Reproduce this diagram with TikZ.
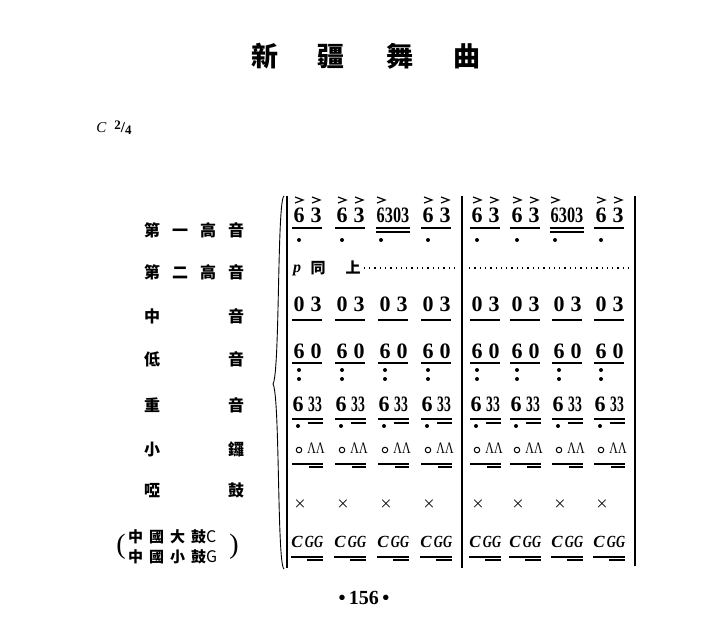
\documentclass[tikz,border=0pt]{standalone}
\usepackage{amsmath}
\usepackage{bm}
\usepackage{fontspec}
\usepackage{graphicx}
\setmainfont{Liberation Serif}
\newfontfamily\cjk{Noto Sans CJK TC}
\usetikzlibrary{positioning}

\newcommand{\numfont}{\fontsize{22}{22}\selectfont\bfseries}
\newcommand{\tight}[1]{\scalebox{0.74}[1]{#1}}
\newcommand{\tighter}[1]{\scalebox{0.62}[1]{#1}}

\begin{document}
\begin{tikzpicture}[x=1pt,y=-1pt]
		\tikzstyle{nt}=[font=\numfont, inner sep=0pt]
		\tikzstyle{lb}=[font=\cjk\bfseries\fontsize{16}{16}\selectfont, inner sep=0pt, anchor=west]
		\tikzstyle{lbs}=[font=\cjk\bfseries\fontsize{15}{15}\selectfont, inner sep=0pt, anchor=west]
		\tikzstyle{ttl}=[font=\cjk\bfseries\fontsize{27}{27}\selectfont, inner sep=0pt]
		\tikzstyle{ul}=[line width=1.1pt]
		\tikzstyle{acc}=[line width=1.2pt]
		\tikzstyle{bar}=[line width=1.4pt]

		\useasboundingbox (0,0) rectangle (704,627);

		% title and key
		\node[ttl] (T1) at (265,56) {新};
		\node[ttl] (T2) at (331,56) {疆};
		\node[ttl] (T3) at (400,56) {舞};
		\node[ttl] (T4) at (467,56) {曲};
		\node[inner sep=0pt] (K) at (114,128) {\fontsize{15}{15}\selectfont\textit{C}\hspace{8pt}\textbf{\raisebox{3pt}{\fontsize{13}{13}\selectfont 2}/\raisebox{-2pt}{\fontsize{13}{13}\selectfont 4}}};

		% part names
		\node[lb] (L1) at (144,230) {第\hspace{12pt}一\hspace{12pt}高\hspace{12pt}音};
		\node[lb] (L2) at (144,272) {第\hspace{12pt}二\hspace{12pt}高\hspace{12pt}音};
		\node[lb] (L3) at (144,316) {中\hspace{68pt}音};
		\node[lb] (L4) at (144,359) {低\hspace{68pt}音};
		\node[lb] (L5) at (144,405) {重\hspace{68pt}音};
		\node[lb] (L6) at (144,449) {小\hspace{68pt}鑼};
		\node[lb] (L7) at (144,490) {啞\hspace{68pt}鼓};
		\node[lbs] (L8a) at (128,537) {中\hspace{6pt}國\hspace{6pt}大\hspace{6pt}鼓\fontsize{16}{16}\selectfont\mdseries C};
		\node[lbs] (L8b) at (128,557) {中\hspace{6pt}國\hspace{6pt}小\hspace{6pt}鼓\fontsize{16}{16}\selectfont\mdseries G};
		\node[inner sep=0pt, font=\fontsize{28}{28}\selectfont] (P1) at (121,547) {(};
		\node[inner sep=0pt, font=\fontsize{28}{28}\selectfont] (P2) at (234,547) {)};

		% brace and bar lines
		\coordinate (Stop) at (287,196);
		\coordinate (Sbot) at (287,568);
		\draw[line width=2.2pt] (Stop) -- (Sbot);
		\draw[line width=0.9pt] (284,196) .. controls (277,200) and (280,372) .. (273,384) .. controls (280,396) and (277,565) .. (284,569);
		\draw[bar] (462,196) -- (462,568);
		\draw[bar] (635,196) -- (635,566);

		% first soprano
		\foreach \bx in {307,350,436,485,525,609} {
			\node[nt] (Aa\bx) at (\bx-8,215) {6};
			\node[nt] (Ab\bx) at (\bx+9,215) {3};
			\draw[acc] (\bx-12,197) -- ++(8,3) -- ++(-8,3);
			\draw[acc] (\bx+5,197) -- ++(8,3) -- ++(-8,3);
			\draw[ul] (\bx-15,228) -- (\bx+15,228);
			\fill (\bx-8,240) circle (2);
		}
		\foreach \bx in {393,567} {
			\node[nt] (Aq\bx) at (\bx,215) {\tight{6303}};
			\draw[acc] (\bx-16,197) -- ++(8,3) -- ++(-8,3);
			\draw[ul] (\bx-17,228) -- (\bx+17,228);
			\draw[ul] (\bx-17,232) -- (\bx+17,232);
			\fill (\bx-12,240) circle (2);
		}

		% second soprano
		\node[inner sep=0pt, font=\fontsize{16}{16}\selectfont\bfseries\itshape] (Bp) at (297,270) {p};
		\node[lbs, anchor=center] (B1) at (318,268) {同};
		\node[lbs, anchor=center] (B2) at (353,268) {上};
		\draw[line width=1.3pt, dash pattern=on 1.3pt off 4pt] (B2.east) ++(3,0) -- (458,268);
		\draw[line width=1.3pt, dash pattern=on 1.3pt off 4pt] (469,268) -- (631,268);

		\foreach \bx [count=\i] in {307,350,393,436,485,525,567,609} {
			% alto
			\node[nt] (Ca\i) at (\bx-8,304) {0};
			\node[nt] (Cb\i) at (\bx+9,304) {3};
			\draw[ul] (\bx-15,320) -- (\bx+15,320);
			% bass
			\node[nt] (Da\i) at (\bx-8,351) {6};
			\node[nt] (Db\i) at (\bx+9,351) {0};
			\draw[ul] (\bx-15,363) -- (\bx+15,363);
			\fill (\bx-8,370) circle (2);
			\fill (\bx-8,379) circle (2);
			% accent part
			\node[nt] (Ea\i) at (\bx-9,404) {6};
			\node[nt] (Eb\i) at (\bx+8,404) {\tighter{33}};
			\draw[ul] (\bx-15,419) -- (\bx+16,419);
			\draw[ul] (\bx+1,423) -- (\bx+16,423);
			\fill (\bx-9,426) circle (2);
			% gong
			\node[draw, circle, line width=1pt, inner sep=0pt, minimum size=5.5pt] (Fa\i) at (\bx-8,450) {};
			\node[inner sep=0pt, font=\fontsize{16}{16}\selectfont] (Fb\i) at (\bx+9,448) {\tight{ΛΛ}};
			\draw[ul] (\bx-15,464) -- (\bx+16,464);
			\draw[ul] (\bx+2,467) -- (\bx+16,467);
			% muffled drum
			\node[inner sep=0pt, font=\fontsize{14}{14}\selectfont] (Ga\i) at (\bx-7,504) {$\bm{\times}$};
			% big and small drum
			\node[nt, font=\fontsize{17}{17}\selectfont\bfseries\itshape] (Ha\i) at (\bx-10,542) {C};
			\node[nt, font=\fontsize{17}{17}\selectfont\bfseries\itshape] (Hb\i) at (\bx+7,542) {\tight{GG}};
			\draw[ul] (\bx-16,557) -- (\bx+16,557);
			\draw[ul] (\bx,560) -- (\bx+16,560);
		}

		% page number
		\node[inner sep=0pt, font=\fontsize{20}{20}\selectfont\bfseries] (pg) at (364,598) {\textbullet\,156\,\textbullet};
\end{tikzpicture}
\end{document}
